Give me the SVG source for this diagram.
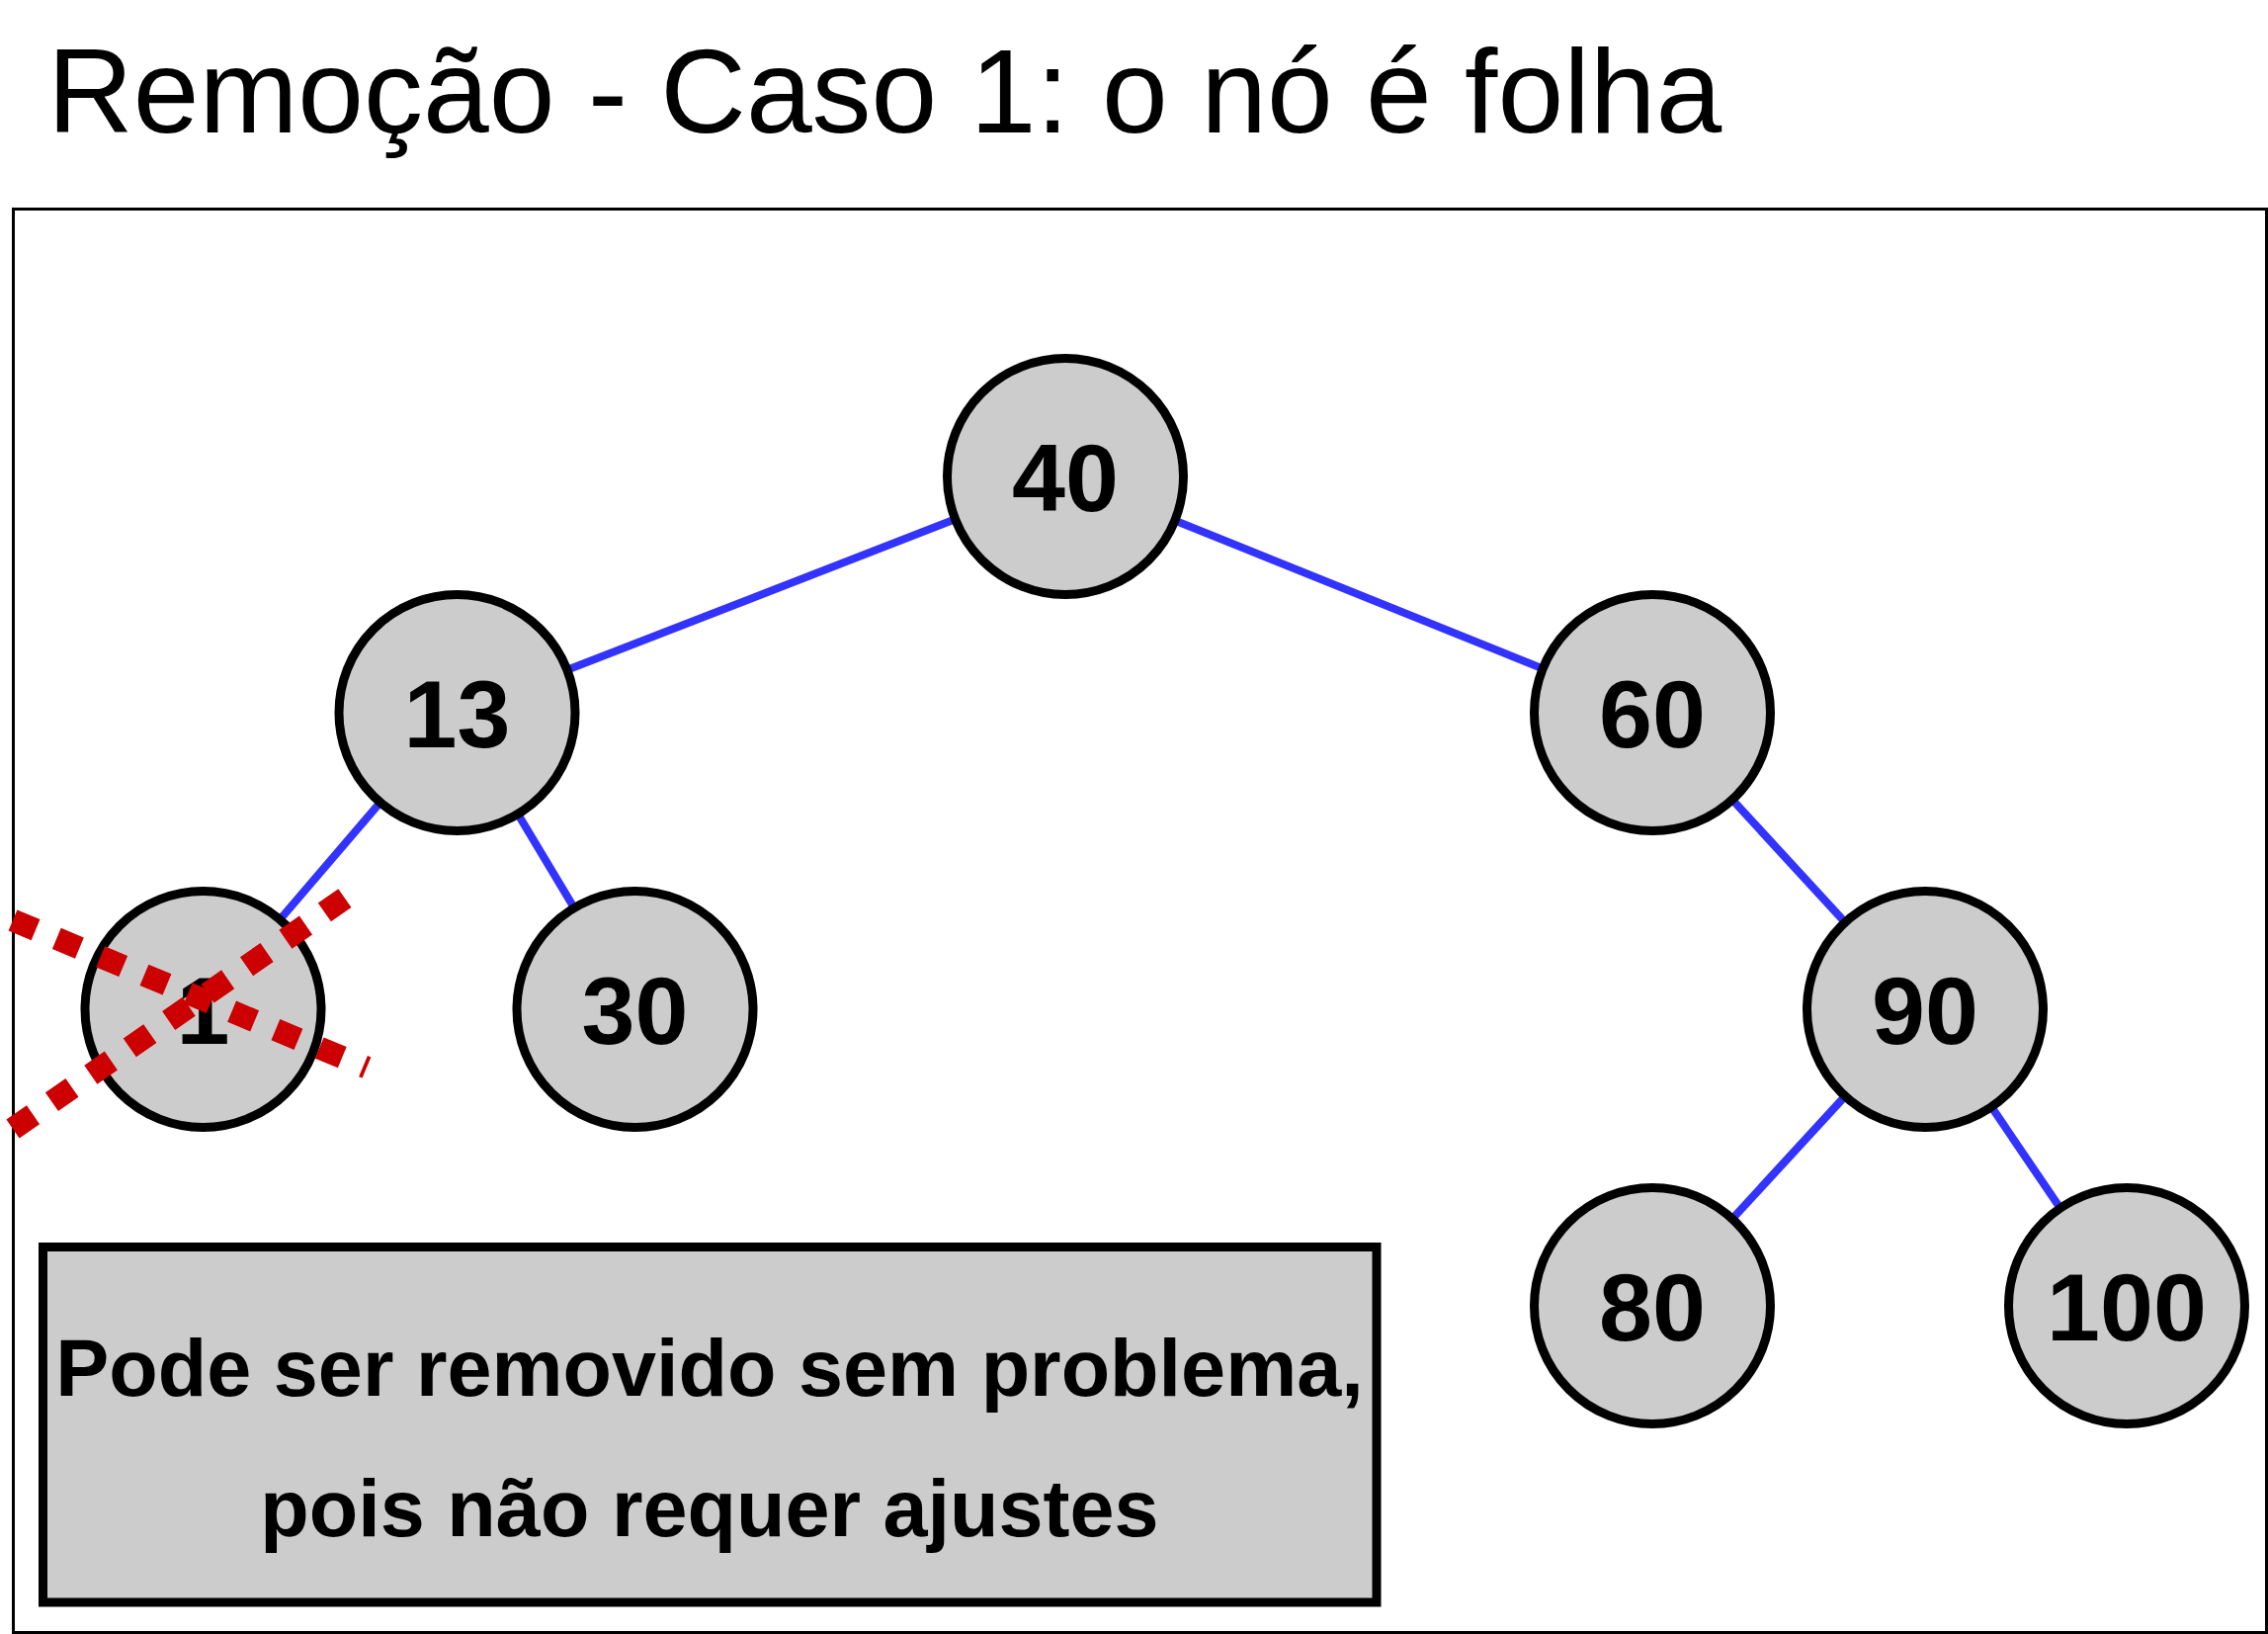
<svg xmlns="http://www.w3.org/2000/svg" width="2295" height="1653" viewBox="0 0 2295 1653">
<style>
.edge{stroke:#3333ff;stroke-width:8;fill:none}
.node circle{fill:#cccccc;stroke:#000;stroke-width:9}
.node text{font-family:"Liberation Sans",Arial,Helvetica,sans-serif;font-weight:bold;font-size:97px;text-anchor:middle;fill:#000}
.strike{stroke:#cc0000;stroke-width:23;stroke-dasharray:25 23;fill:none}
.note{font-family:"Liberation Sans",Arial,Helvetica,sans-serif;font-weight:bold;font-size:81px;text-anchor:middle;fill:#000}
</style>
<rect width="2295" height="1653" fill="#fff"/>
<text x="48" y="134" font-family="'Liberation Sans',Arial,Helvetica,sans-serif" font-size="120" fill="#000">Remoção - Caso 1: o nó é folha</text>
<rect id="frame" x="13.5" y="211.5" width="2280" height="1440" fill="none" stroke="#000" stroke-width="3"/>
<g id="connectors">
<line class="edge" x1="1078" y1="482" x2="462.5" y2="721"/>
<line class="edge" x1="1078" y1="482" x2="1672" y2="721"/>
<line class="edge" x1="462.5" y1="721" x2="205.5" y2="1021"/>
<line class="edge" x1="462.5" y1="721" x2="642.5" y2="1021"/>
<line class="edge" x1="1672" y1="721" x2="1948" y2="1021"/>
<line class="edge" x1="1948" y1="1021" x2="1672" y2="1321"/>
<line class="edge" x1="1948" y1="1021" x2="2152" y2="1321"/>
</g>
<g id="n40" class="node"><circle cx="1078" cy="482" r="119.5"/><text x="1078" y="517">40</text></g>
<g id="n13" class="node"><circle cx="462.5" cy="721" r="119.5"/><text x="462.5" y="756">13</text></g>
<g id="n60" class="node"><circle cx="1672" cy="721" r="119.5"/><text x="1672" y="756">60</text></g>
<g id="n1" class="node"><circle cx="205.5" cy="1021" r="119.5"/><text x="205.5" y="1056">1</text></g>
<g id="n30" class="node"><circle cx="642.5" cy="1021" r="119.5"/><text x="642.5" y="1056">30</text></g>
<g id="n90" class="node"><circle cx="1948" cy="1021" r="119.5"/><text x="1948" y="1056">90</text></g>
<g id="n80" class="node"><circle cx="1672" cy="1321" r="119.5"/><text x="1672" y="1356">80</text></g>
<g id="n100" class="node"><circle cx="2152" cy="1321" r="119.5"/><text x="2152" y="1356">100</text></g>
<g id="strike-marks">
<line class="strike" x1="13" y1="931" x2="371" y2="1080"/>
<line class="strike" x1="13" y1="1142" x2="349" y2="908.6"/>
</g>
<g id="note">
<rect x="43.5" y="1261.5" width="1349.5" height="359.5" fill="#cccccc" stroke="#000" stroke-width="9"/>
<text class="note" x="718" y="1412">Pode ser removido sem problema,</text>
<text class="note" x="718" y="1554">pois não requer ajustes</text>
</g>
</svg>
